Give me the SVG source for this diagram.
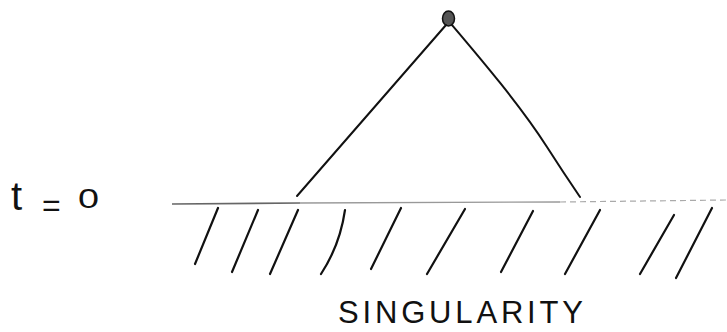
<svg xmlns="http://www.w3.org/2000/svg" width="727" height="332" viewBox="0 0 727 332">
<style>
.ink{fill:none;stroke:#111;stroke-width:2;stroke-linecap:round;stroke-linejoin:round}
.hatch{fill:none;stroke:#111;stroke-width:2.2;stroke-linecap:round}
.lbl{font-family:"Liberation Sans",Arial,sans-serif;fill:#111}
</style>
<rect width="727" height="332" fill="#fff"/>
<g id="event">
<ellipse cx="448.5" cy="18.5" rx="6" ry="7.5" fill="#555" stroke="#111" stroke-width="1.5"/>
</g>
<g id="connectors">
<path class="ink" d="M446,25 L297,196"/>
<path class="ink" d="M452,25 C480,58 520,105 547,147 Q563,172 580,197"/>
</g>
<g id="surface">
<path d="M172,204 L300,203" fill="none" stroke="#666" stroke-width="1.6"/>
<path d="M300,203 L560,202" fill="none" stroke="#999" stroke-width="1.3"/>
<path d="M560,202 L727,200" fill="none" stroke="#aaa" stroke-width="1.2" stroke-dasharray="6,4"/>
<path class="hatch" d="M218,208 L195,264"/>
<path class="hatch" d="M258,210 L232,272"/>
<path class="hatch" d="M298,210 L270,274"/>
<path class="hatch" d="M345,210 Q340,245 321,274"/>
<path class="hatch" d="M401,208 L371,269"/>
<path class="hatch" d="M465,209 L427,274"/>
<path class="hatch" d="M533,211 L501,272"/>
<path class="hatch" d="M600,210 L565,274"/>
<path class="hatch" d="M674,215 L640,274"/>
<path class="hatch" d="M712,208 L676,278"/>
</g>
<g id="label-t0">
<text class="lbl"><tspan x="11" y="210" font-size="40">t</tspan><tspan x="42" y="216" font-size="32">=</tspan><tspan x="78" y="208" font-size="27" textLength="21" lengthAdjust="spacingAndGlyphs">0</tspan></text>
</g>
<g id="label-singularity">
<text class="lbl" x="338" y="323" font-size="31" textLength="245" lengthAdjust="spacing">SINGULARITY</text>
</g>
</svg>
